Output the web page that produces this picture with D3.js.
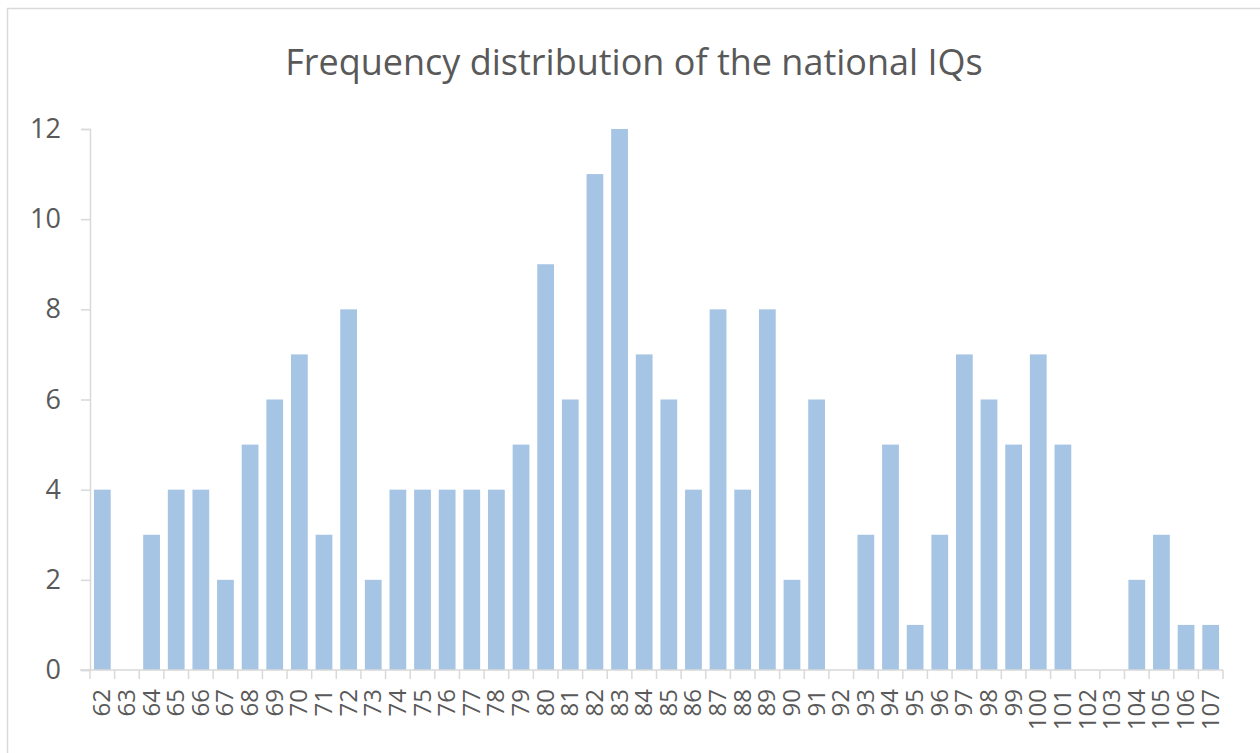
<!DOCTYPE html>
<html>
<head>
<meta charset="utf-8">
<script src="https://cdn.jsdelivr.net/npm/d3@7"></script>
<style>
  body { margin: 0; background: #fff; }
  svg { display: block; }
</style>
</head>
<body>
<div id="chart"></div>
<script>
const width = 1260;
const height = 753;

const categories = ['62', '63', '64', '65', '66', '67', '68', '69', '70', '71', '72', '73', '74', '75', '76', '77',
    '78', '79', '80', '81', '82', '83', '84', '85', '86', '87', '88', '89', '90', '91', '92', '93',
    '94', '95', '96', '97', '98', '99', '100', '101', '102', '103', '104', '105', '106', '107'];
const counts = [4, 0, 3, 4, 4, 2, 5, 6, 7, 3, 8, 2, 4, 4, 4, 4,
    4, 5, 9, 6, 11, 12, 7, 6, 4, 8, 4, 8, 2, 6, 0, 3,
    5, 1, 3, 7, 6, 5, 7, 5, 0, 0, 2, 3, 1, 1];
const yTicks = [0, 2, 4, 6, 8, 10, 12];
const title = 'Frequency distribution of the national IQs';

const margin = {left: 90, right: 37, top: 129, bottom: 83};
const font = '"Open Sans", "Noto Sans", sans-serif';
const textColor = '#595959';
const axisColor = '#d9d9d9';

const svg = d3.select('#chart').append('svg')
    .attr('width', width)
    .attr('height', height);

// chart frame (partly off the page, like the source)
svg.append('rect')
    .attr('x', 7.5).attr('y', 8.5)
    .attr('width', width + 20).attr('height', height + 20)
    .attr('fill', 'none')
    .attr('stroke', axisColor)
    .attr('stroke-width', 1.5);

const x = d3.scaleBand()
    .domain(categories)
    .range([margin.left, width - margin.right])
    .paddingInner(0.32)
    .paddingOuter(0.16);

const y = d3.scaleLinear()
    .domain([0, 12])
    .range([height - margin.bottom, margin.top]);

svg.append('text')
    .attr('x', 634)
    .attr('y', 75)
    .attr('text-anchor', 'middle')
    .attr('font-family', font)
    .attr('font-size', 36)
    .attr('fill', textColor)
    .text(title);

// y axis
const yAxis = svg.append('g')
    .attr('transform', `translate(${margin.left},0)`)
    .call(d3.axisLeft(y).tickValues(yTicks).tickSize(9).tickPadding(20));
yAxis.select('.domain').attr('stroke', axisColor).attr('stroke-width', 1.5);
yAxis.selectAll('.tick line').attr('stroke', axisColor).attr('stroke-width', 1.5);
yAxis.selectAll('.tick text')
    .attr('font-family', font)
    .attr('font-size', 27)
    .attr('fill', textColor);

// bars
svg.append('g')
    .selectAll('rect')
    .data(categories)
    .join('rect')
    .attr('x', d => x(d))
    .attr('width', x.bandwidth())
    .attr('y', (d, i) => y(counts[i]))
    .attr('height', (d, i) => y(0) - y(counts[i]))
    .attr('fill', '#a6c4e4');

// x axis: ticks sit on category boundaries
const step = x.step();
const boundaries = d3.range(categories.length + 1).map(i => x.range()[0] + i * step);
const xAxis = svg.append('g');
xAxis.append('line')
    .attr('x1', margin.left - 10).attr('x2', width - margin.right)
    .attr('y1', y(0)).attr('y2', y(0))
    .attr('stroke', axisColor).attr('stroke-width', 1.5);
xAxis.selectAll('line.tick')
    .data(boundaries)
    .join('line')
    .attr('class', 'tick')
    .attr('x1', d => d).attr('x2', d => d)
    .attr('y1', y(0)).attr('y2', y(0) + 9)
    .attr('stroke', axisColor).attr('stroke-width', 1.5);
xAxis.selectAll('text')
    .data(categories)
    .join('text')
    .attr('transform', d => `translate(${x(d) + x.bandwidth() / 2 + 8},${y(0) + 19}) rotate(-90)`)
    .attr('text-anchor', 'end')
    .attr('font-family', font)
    .attr('font-size', 24)
    .attr('fill', textColor)
    .text(d => d);
</script>
</body>
</html>
